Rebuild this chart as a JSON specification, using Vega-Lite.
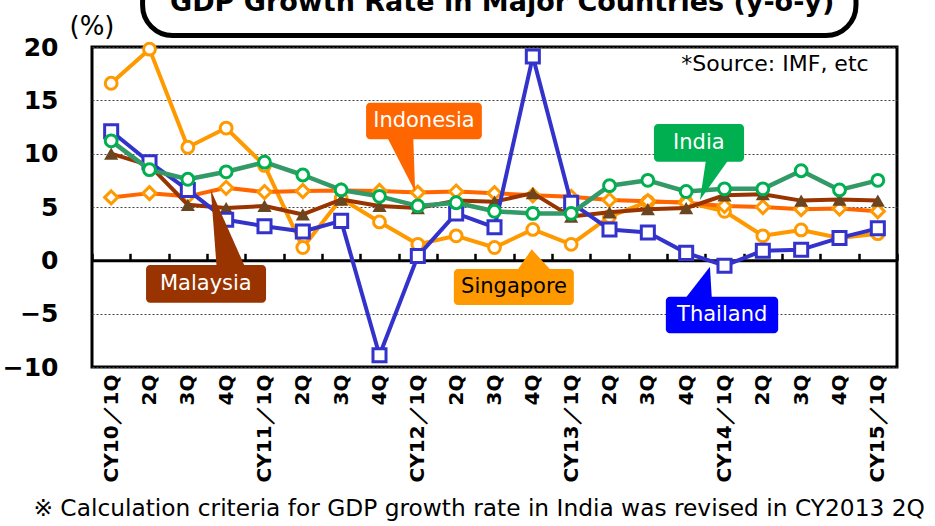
{
  "$schema": "https://vega.github.io/schema/vega-lite/v6.json",
  "autosize": "none",
  "width": 805,
  "height": 320,
  "padding": {"left": 92, "top": 47, "right": 38, "bottom": 159},
  "background": "white",
  "config": {
    "view": {"stroke": "black", "strokeWidth": 3},
    "font": "DejaVu Sans"
  },
  "datasets": {
    "gdp": [
      {"i": 0, "Singapore": 16.6, "Indonesia": 5.9, "Malaysia": 10.0, "Thailand": 12.1, "India": 11.2},
      {"i": 1, "Singapore": 19.8, "Indonesia": 6.3, "Malaysia": 8.9, "Thailand": 9.2, "India": 8.5},
      {"i": 2, "Singapore": 10.6, "Indonesia": 6.0, "Malaysia": 5.2, "Thailand": 6.6, "India": 7.6},
      {"i": 3, "Singapore": 12.4, "Indonesia": 6.8, "Malaysia": 4.9, "Thailand": 3.8, "India": 8.3},
      {"i": 4, "Singapore": 8.9, "Indonesia": 6.4, "Malaysia": 5.1, "Thailand": 3.2, "India": 9.2},
      {"i": 5, "Singapore": 1.2, "Indonesia": 6.5, "Malaysia": 4.3, "Thailand": 2.7, "India": 8.0},
      {"i": 6, "Singapore": 5.8, "Indonesia": 6.55, "Malaysia": 5.7, "Thailand": 3.7, "India": 6.6},
      {"i": 7, "Singapore": 3.6, "Indonesia": 6.5, "Malaysia": 5.1, "Thailand": -8.9, "India": 6.0},
      {"i": 8, "Singapore": 1.5, "Indonesia": 6.35, "Malaysia": 4.9, "Thailand": 0.4, "India": 5.1},
      {"i": 9, "Singapore": 2.3, "Indonesia": 6.45, "Malaysia": 5.6, "Thailand": 4.4, "India": 5.4},
      {"i": 10, "Singapore": 1.2, "Indonesia": 6.3, "Malaysia": 5.5, "Thailand": 3.1, "India": 4.6},
      {"i": 11, "Singapore": 2.9, "Indonesia": 6.1, "Malaysia": 6.3, "Thailand": 19.1, "India": 4.4},
      {"i": 12, "Singapore": 1.5, "Indonesia": 5.95, "Malaysia": 4.1, "Thailand": 5.4, "India": 4.4},
      {"i": 13, "Singapore": 4.1, "Indonesia": 5.65, "Malaysia": 4.5, "Thailand": 2.9, "India": 7.0},
      {"i": 14, "Singapore": 5.5, "Indonesia": 5.55, "Malaysia": 4.8, "Thailand": 2.6, "India": 7.5},
      {"i": 15, "Singapore": 5.45, "Indonesia": 5.4, "Malaysia": 4.9, "Thailand": 0.7, "India": 6.45},
      {"i": 16, "Singapore": 4.6, "Indonesia": 5.1, "Malaysia": 6.1, "Thailand": -0.5, "India": 6.7},
      {"i": 17, "Singapore": 2.3, "Indonesia": 5.0, "Malaysia": 6.2, "Thailand": 0.9, "India": 6.7},
      {"i": 18, "Singapore": 2.85, "Indonesia": 4.8, "Malaysia": 5.6, "Thailand": 1.0, "India": 8.4},
      {"i": 19, "Singapore": 2.1, "Indonesia": 4.85, "Malaysia": 5.7, "Thailand": 2.1, "India": 6.6},
      {"i": 20, "Singapore": 2.5, "Indonesia": 4.6, "Malaysia": 5.6, "Thailand": 3.0, "India": 7.5}
    ],
    "callouts": [
      {"c": "Indonesia", "x1": 6.65, "x2": 9.67, "y1": 14.78, "y2": 11.35, "tx": 8.16, "ty": 13.06},
      {"c": "Malaysia", "x1": 0.91, "x2": 4.04, "y1": -0.44, "y2": -3.97, "tx": 2.47, "ty": -2.22},
      {"c": "Singapore", "x1": 8.94, "x2": 12.07, "y1": -0.81, "y2": -4.19, "tx": 10.51, "ty": -2.5},
      {"c": "India", "x1": 14.16, "x2": 16.51, "y1": 12.78, "y2": 9.25, "tx": 15.33, "ty": 11.02},
      {"c": "Thailand", "x1": 14.47, "x2": 17.4, "y1": -3.41, "y2": -6.84, "tx": 15.94, "ty": -5.13}
    ],
    "pointers": [
      {"c": "Indonesia", "o": 0, "x": 7.19, "y": 11.6},
      {"c": "Indonesia", "o": 1, "x": 7.93, "y": 6.43},
      {"c": "Indonesia", "o": 2, "x": 7.88, "y": 11.6},
      {"c": "Malaysia", "o": 0, "x": 2.75, "y": -0.6},
      {"c": "Malaysia", "o": 1, "x": 2.6, "y": 6.59},
      {"c": "Malaysia", "o": 2, "x": 3.49, "y": -0.6},
      {"c": "Singapore", "o": 0, "x": 10.58, "y": -1.0},
      {"c": "Singapore", "o": 1, "x": 10.97, "y": 1.03},
      {"c": "Singapore", "o": 2, "x": 11.49, "y": -1.0},
      {"c": "India", "o": 0, "x": 15.52, "y": 9.5},
      {"c": "India", "o": 1, "x": 15.36, "y": 5.66},
      {"c": "India", "o": 2, "x": 16.12, "y": 9.5},
      {"c": "Thailand", "o": 0, "x": 14.97, "y": -3.6},
      {"c": "Thailand", "o": 1, "x": 15.62, "y": -0.6},
      {"c": "Thailand", "o": 2, "x": 15.67, "y": -3.6}
    ]
  },
  "resolve": {"axis": {"x": "independent", "y": "independent"}},
  "layer": [
    {
      "data": {"name": "gdp"},
      "mark": {"type": "line", "color": "#FF9900", "strokeWidth": 4, "strokeJoin": "round",
        "point": {"shape": "circle", "filled": true, "fill": "white", "stroke": "#FF9900", "strokeWidth": 3, "size": 140}},
      "encoding": {
        "x": {"field": "i", "type": "quantitative",
          "scale": {"domain": [-0.5, 20.5], "nice": false, "zero": false},
          "axis": {"orient": "bottom", "title": null, "domain": false, "ticks": false, "grid": false,
            "values": [0,1,2,3,4,5,6,7,8,9,10,11,12,13,14,15,16,17,18,19,20],
            "labelAngle": 270, "labelFlush": false, "labelOverlap": false, "labelPadding": 7,
            "labelFont": "DejaVu Sans", "labelFontWeight": "bold", "labelFontSize": 20, "labelColor": "black",
            "labelExpr": "['CY10／1Q','2Q','3Q','4Q','CY11／1Q','2Q','3Q','4Q','CY12／1Q','2Q','3Q','4Q','CY13／1Q','2Q','3Q','4Q','CY14／1Q','2Q','3Q','4Q','CY15／1Q'][datum.value]"}},
        "y": {"field": "Singapore", "type": "quantitative",
          "scale": {"domain": [-10, 20], "nice": false, "zero": false},
          "axis": {"orient": "left", "title": null, "domain": false, "ticks": false, "grid": true,
            "values": [-10, -5, 0, 5, 10, 15, 20],
            "gridColor": "#444444", "gridDash": [2, 2], "gridWidth": 1,
            "labelFont": "DejaVu Sans", "labelFontWeight": "bold", "labelFontSize": 25, "labelColor": "black",
            "labelPadding": 34}}
      }
    },
    {
      "data": {"name": "gdp"},
      "mark": {"type": "line", "color": "#FF6600", "strokeWidth": 4, "strokeJoin": "round",
        "point": {"shape": "diamond", "filled": true, "fill": "white", "stroke": "#FF9900", "strokeWidth": 3, "size": 170}},
      "encoding": {
        "x": {"field": "i", "type": "quantitative", "axis": null},
        "y": {"field": "Indonesia", "type": "quantitative", "axis": null}
      }
    },
    {
      "data": {"name": "gdp"},
      "mark": {"type": "line", "color": "#993300", "strokeWidth": 4, "strokeJoin": "round",
        "point": {"shape": "triangle-up", "filled": true, "fill": "#6B4520", "strokeWidth": 0, "size": 200}},
      "encoding": {
        "x": {"field": "i", "type": "quantitative", "axis": null},
        "y": {"field": "Malaysia", "type": "quantitative", "axis": null}
      }
    },
    {
      "data": {"name": "gdp"},
      "mark": {"type": "line", "color": "#3333CC", "strokeWidth": 4, "strokeJoin": "round",
        "point": {"shape": "square", "filled": true, "fill": "white", "stroke": "#3333CC", "strokeWidth": 3, "size": 170}},
      "encoding": {
        "x": {"field": "i", "type": "quantitative", "axis": null},
        "y": {"field": "Thailand", "type": "quantitative", "axis": null}
      }
    },
    {
      "data": {"name": "gdp"},
      "mark": {"type": "line", "color": "#339966", "strokeWidth": 4.5, "strokeJoin": "round",
        "point": {"shape": "circle", "filled": true, "fill": "white", "stroke": "#00B050", "strokeWidth": 3, "size": 140}},
      "encoding": {
        "x": {"field": "i", "type": "quantitative",
          "axis": {"orient": "top", "title": null, "offset": -213.33, "labels": false, "grid": false,
            "domain": true, "domainColor": "black", "domainWidth": 3,
            "ticks": true, "tickColor": "black", "tickWidth": 2.5, "tickSize": 7,
            "values": [-0.5,0.5,1.5,2.5,3.5,4.5,5.5,6.5,7.5,8.5,9.5,10.5,11.5,12.5,13.5,14.5,15.5,16.5,17.5,18.5,19.5,20.5]}},
        "y": {"field": "India", "type": "quantitative", "axis": null}
      }
    },
    {
      "data": {"values": [{}]},
      "mark": {"type": "rect", "fill": "white", "stroke": "black", "strokeWidth": 5, "cornerRadius": 30},
      "encoding": {
        "x": {"datum": 0.82, "type": "quantitative", "axis": null},
        "x2": {"datum": 19.43},
        "y": {"datum": 28.2, "type": "quantitative", "axis": null},
        "y2": {"datum": 21.08}
      }
    },
    {
      "data": {"values": [{}]},
      "mark": {"type": "text", "text": "GDP Growth Rate in Major Countries (y-o-y)", "font": "DejaVu Sans", "fontWeight": "bold", "fontSize": 27, "align": "center", "baseline": "alphabetic", "color": "black"},
      "encoding": {
        "x": {"datum": 10.2, "type": "quantitative", "axis": null},
        "y": {"datum": 23.4, "type": "quantitative", "axis": null}
      }
    },
    {
      "data": {"values": [{}]},
      "mark": {"type": "text", "text": "(%)", "font": "DejaVu Sans", "fontSize": 26, "align": "center", "baseline": "middle", "color": "black"},
      "encoding": {
        "x": {"datum": -0.5, "type": "quantitative", "axis": null},
        "y": {"datum": 21.87, "type": "quantitative", "axis": null}
      }
    },
    {
      "data": {"values": [{}]},
      "mark": {"type": "text", "text": "*Source: IMF, etc", "font": "DejaVu Sans", "fontSize": 22, "align": "right", "baseline": "middle", "color": "black"},
      "encoding": {
        "x": {"datum": 19.76, "type": "quantitative", "axis": null},
        "y": {"datum": 18.37, "type": "quantitative", "axis": null}
      }
    },
    {
      "data": {"values": [{}]},
      "mark": {"type": "text", "text": "※ Calculation criteria for GDP growth rate in India was revised in CY2013 2Q", "font": "DejaVu Sans", "fontSize": 23.3, "align": "center", "baseline": "middle", "color": "black"},
      "encoding": {
        "x": {"datum": 9.6, "type": "quantitative", "axis": null},
        "y": {"datum": -23.3, "type": "quantitative", "axis": null}
      }
    },
    {
      "data": {"name": "pointers"},
      "mark": {"type": "line", "filled": true, "strokeWidth": 0, "interpolate": "linear"},
      "encoding": {
        "x": {"field": "x", "type": "quantitative", "axis": null},
        "y": {"field": "y", "type": "quantitative", "axis": null},
        "order": {"field": "o", "type": "quantitative"},
        "detail": {"field": "c", "type": "nominal"},
        "fill": {"field": "c", "type": "nominal", "legend": null,
          "scale": {"domain": ["Indonesia", "Malaysia", "Singapore", "India", "Thailand"], "range": ["#FF6600", "#993300", "#FF9900", "#00B050", "#0000FF"]}}
      }
    },
    {
      "data": {"name": "callouts"},
      "mark": {"type": "rect", "cornerRadius": 4},
      "encoding": {
        "x": {"field": "x1", "type": "quantitative", "axis": null},
        "x2": {"field": "x2"},
        "y": {"field": "y1", "type": "quantitative", "axis": null},
        "y2": {"field": "y2"},
        "fill": {"field": "c", "type": "nominal", "legend": null,
          "scale": {"domain": ["Indonesia", "Malaysia", "Singapore", "India", "Thailand"], "range": ["#FF6600", "#993300", "#FF9900", "#00B050", "#0000FF"]}}
      }
    },
    {
      "data": {"name": "callouts"},
      "mark": {"type": "text", "font": "DejaVu Sans", "fontSize": 21, "align": "center", "baseline": "middle"},
      "encoding": {
        "x": {"field": "tx", "type": "quantitative", "axis": null},
        "y": {"field": "ty", "type": "quantitative", "axis": null},
        "text": {"field": "c", "type": "nominal"},
        "color": {"condition": {"test": "datum.c === 'Singapore'", "value": "black"}, "value": "white"}
      }
    }
  ]
}
